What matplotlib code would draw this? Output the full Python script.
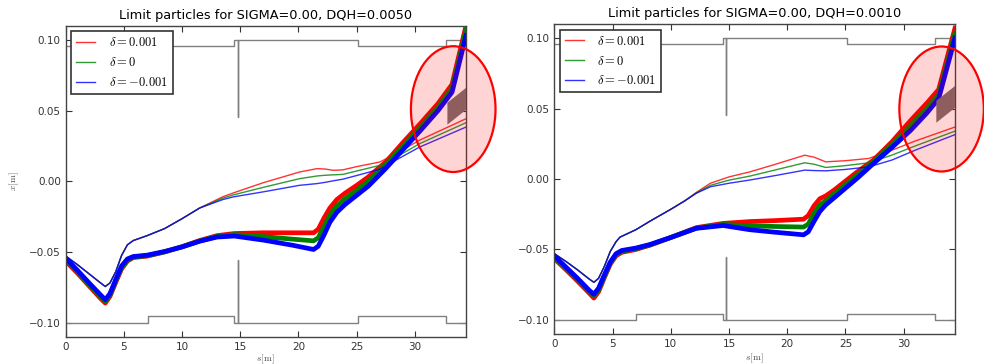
import matplotlib
matplotlib.use('Agg')
import matplotlib.pyplot as plt
from matplotlib.patches import Ellipse, Polygon

plt.rcParams['mathtext.fontset'] = 'cm'
plt.rcParams['xtick.direction'] = 'in'
plt.rcParams['ytick.direction'] = 'in'
plt.rcParams['xtick.top'] = True
plt.rcParams['ytick.right'] = True

labels = [r'$\delta=0.001$', r'$\delta=0$', r'$\delta=-0.001$']
colors = ['#ff0000', '#008000', '#0000ff']
titles = ['Limit particles for SIGMA=0.00, DQH=0.0050',
          'Limit particles for SIGMA=0.00, DQH=0.0010']

# aperture (gray) along s
ap_s = [0, 7.05, 7.05, 14.5, 14.5, 14.77, 14.77, 14.77, 25.1, 25.1, 32.65, 32.65, 34.4]
ap_up = [0.0957, 0.0957, 0.0957, 0.0957, 0.100, 0.100, 0.0453, 0.100, 0.100, 0.0957, 0.0957, 0.100, 0.100]
ap_lo = [-0.100, -0.100, -0.0957, -0.0957, -0.100, -0.100, -0.0557, -0.100, -0.100, -0.0957, -0.0957, -0.100, -0.100]

# septum shadow (s, x)
sep_s = [32.8, 32.8, 34.4, 34.4]
sep_x = [0.040, 0.0555, 0.066, 0.0505]

# ---- DQH = 0.0050 : thick bundles ----
b1_s_early = [0, 1, 2, 3.0, 3.4, 3.8, 4.3, 4.8, 5.3, 5.8, 7.0, 8.5, 10.0, 11.5, 13.0, 14.5]
b1_red_early = [-0.0565, -0.0650, -0.0740, -0.0830, -0.0862, -0.0815, -0.0715, -0.0620, -0.0565, -0.0540,
                -0.0530, -0.0500, -0.0463, -0.0420, -0.0385, -0.0370]
b1_grn_early = [-0.0555, -0.0640, -0.0730, -0.0820, -0.0850, -0.0805, -0.0705, -0.0610, -0.0558, -0.0537,
                -0.0527, -0.0500, -0.0464, -0.0423, -0.0390, -0.0377]
b1_blu_early = [-0.0545, -0.0630, -0.0719, -0.0805, -0.0838, -0.0795, -0.0695, -0.0600, -0.0550, -0.0533,
                -0.0523, -0.0497, -0.0465, -0.0425, -0.0395, -0.0388]
b1_s_late = [17.0, 19.5, 21.3, 21.7, 22.2, 22.7, 23.3, 24.0, 25.0, 26.0, 27.5, 29.0, 30.5, 32.0, 33.2, 34.4]
b1_red_late = [-0.0365, -0.0365, -0.0365, -0.0340, -0.0260, -0.0190, -0.0130, -0.0085, -0.0030, 0.0030,
               0.0135, 0.0275, 0.0410, 0.0550, 0.0685, 0.1100]
b1_grn_late = [-0.0392, -0.0410, -0.0422, -0.0400, -0.0320, -0.0240, -0.0175, -0.0125, -0.0065, 0.0000,
               0.0115, 0.0250, 0.0385, 0.0525, 0.0660, 0.1070]
b1_blu_late = [-0.0417, -0.0453, -0.0483, -0.0460, -0.0380, -0.0290, -0.0220, -0.0165, -0.0100, -0.0035,
               0.0090, 0.0225, 0.0360, 0.0500, 0.0630, 0.1030]

# ---- DQH = 0.0050 : single particles ----
t1_s_early = [0, 1, 2, 3.0, 3.4, 3.8, 4.3, 4.8, 5.3, 5.8, 7.0, 8.5, 10.0, 11.5]
t1_early = [-0.053, -0.059, -0.0655, -0.072, -0.0745, -0.072, -0.064, -0.0525, -0.045, -0.042,
            -0.0385, -0.0335, -0.0265, -0.019]
t1_s_late = [12.5, 13.5, 14.4, 17.0, 20.1, 21.6, 22.3, 23.0, 23.8, 25.0, 27.0, 28.5, 30.4, 34.4]
t1_red_late = [-0.0150, -0.0110, -0.0083, -0.0010, 0.0065, 0.0089, 0.0086, 0.0077, 0.0080, 0.0103,
               0.0136, 0.0200, 0.0290, 0.0442]
t1_grn_late = [-0.0155, -0.0120, -0.0097, -0.0043, 0.0018, 0.0037, 0.0042, 0.0045, 0.0048, 0.0072,
               0.0112, 0.0175, 0.0265, 0.0414]
t1_blu_late = [-0.0160, -0.0130, -0.0111, -0.0075, -0.0029, -0.0017, -0.0008, 0.0003, 0.0014, 0.0040,
               0.0085, 0.0155, 0.0241, 0.0383]

# ---- DQH = 0.0010 : thick bundles ----
b2_s_early = [0, 1, 2, 3.0, 3.4, 3.8, 4.3, 4.8, 5.3, 5.8, 7.0, 8.2, 10.0, 12.2, 14.5]
b2_red_early = [-0.0565, -0.0643, -0.0725, -0.0810, -0.0845, -0.0800, -0.0700, -0.0605, -0.0545, -0.0520,
                -0.0500, -0.0470, -0.0415, -0.0345, -0.0315]
b2_grn_early = [-0.0555, -0.0635, -0.0715, -0.0800, -0.0830, -0.0788, -0.0690, -0.0598, -0.0538, -0.0513,
                -0.0495, -0.0468, -0.0415, -0.0348, -0.0322]
b2_blu_early = [-0.0545, -0.0625, -0.0705, -0.0790, -0.0818, -0.0775, -0.0680, -0.0590, -0.0530, -0.0507,
                -0.0490, -0.0465, -0.0415, -0.0350, -0.0330]
b2_s_late = [16.8, 19.0, 21.4, 21.8, 22.3, 22.8, 23.3, 24.0, 25.0, 26.0, 27.4, 29.0, 30.6, 32.0, 33.0, 34.4]
b2_red_late = [-0.0302, -0.0295, -0.0285, -0.0260, -0.0190, -0.0140, -0.0120, -0.0080, -0.0015, 0.0050,
               0.0134, 0.0265, 0.0416, 0.0540, 0.0635, 0.1070]
b2_grn_late = [-0.0332, -0.0337, -0.0341, -0.0320, -0.0245, -0.0185, -0.0155, -0.0108, -0.0040, 0.0028,
               0.0122, 0.0245, 0.0380, 0.0505, 0.0600, 0.1035]
b2_blu_late = [-0.0360, -0.0378, -0.0396, -0.0375, -0.0300, -0.0230, -0.0184, -0.0135, -0.0065, 0.0005,
               0.0110, 0.0225, 0.0346, 0.0470, 0.0570, 0.1000]

# ---- DQH = 0.0010 : single particles ----
t2_s_early = [0, 1, 2, 3.0, 3.4, 3.8, 4.3, 4.8, 5.3, 5.65, 7.0, 8.2, 10.0, 11.2]
t2_early = [-0.053, -0.0585, -0.0645, -0.071, -0.0733, -0.0705, -0.062, -0.0515, -0.0445, -0.0412,
            -0.036, -0.030, -0.0215, -0.0155]
t2_s_late = [12.2, 13.4, 15.0, 16.8, 19.0, 21.5, 22.3, 23.3, 25.0, 27.0, 29.0, 31.0, 34.4]
t2_red_late = [-0.0095, -0.0030, 0.0015, 0.0051, 0.0105, 0.0169, 0.0155, 0.0122, 0.0130, 0.0146,
               0.0205, 0.0270, 0.0369]
t2_grn_late = [-0.0098, -0.0045, -0.0008, 0.0021, 0.0065, 0.0115, 0.0105, 0.0082, 0.0095, 0.0115,
               0.0170, 0.0235, 0.0340]
t2_blu_late = [-0.0101, -0.0055, -0.0030, -0.0007, 0.0025, 0.0063, 0.0060, 0.0058, 0.0068, 0.0086,
               0.0135, 0.0205, 0.0315]

panels = [
    dict(rect=[0.0668, 0.075, 0.4068, 0.8544],
         b_early=(b1_s_early, [b1_red_early, b1_grn_early, b1_blu_early]),
         b_late=(b1_s_late, [b1_red_late, b1_grn_late, b1_blu_late]),
         t_early=(t1_s_early, t1_early),
         t_late=(t1_s_late, [t1_red_late, t1_grn_late, t1_blu_late]),
         ell=(33.3, 0.051, 7.27, 0.089), ylabel=True, xpad=0.5),
    dict(rect=[0.5633, 0.0824, 0.4072, 0.8516],
         b_early=(b2_s_early, [b2_red_early, b2_grn_early, b2_blu_early]),
         b_late=(b2_s_late, [b2_red_late, b2_grn_late, b2_blu_late]),
         t_early=(t2_s_early, t2_early),
         t_late=(t2_s_late, [t2_red_late, t2_grn_late, t2_blu_late]),
         ell=(33.25, 0.0497, 7.25, 0.0887), ylabel=False, xpad=2),
]

fig = plt.figure(figsize=(9.84, 3.64), dpi=100)

for p, title in zip(panels, titles):
    ax = fig.add_axes(p['rect'])
    ax.plot(ap_s, ap_up, color='gray', lw=1.0)
    ax.plot(ap_s, ap_lo, color='gray', lw=1.0)

    s_e, bands_e = p['b_early']
    s_l, bands_l = p['b_late']
    ts_e, t_e = p['t_early']
    ts_l, t_l = p['t_late']
    for k in range(3):
        ax.plot(s_e + s_l, bands_e[k] + bands_l[k], color=colors[k], lw=3.4,
                solid_joinstyle='round')
        ax.plot(ts_e + ts_l, t_e + t_l[k], color=colors[k], lw=1.0, alpha=0.8, label=labels[k])

    ax.add_patch(Polygon(list(zip(sep_s, sep_x)), closed=True, facecolor='#787070',
                         edgecolor='none', zorder=4))
    cx, cy, w, h = p['ell']
    ax.add_patch(Ellipse((cx, cy), w, h, facecolor=(1, 0, 0, 0.17), edgecolor='red',
                         lw=1.6, zorder=5, clip_on=False))

    ax.set_xlim(0, 34.4)
    ax.set_ylim(-0.11, 0.11)
    ax.set_xticks([0, 5, 10, 15, 20, 25, 30])
    ax.set_yticks([-0.10, -0.05, 0.0, 0.05, 0.10])
    ax.set_yticklabels(['\u22120.10', '\u22120.05', '0.00', '0.05', '0.10'])
    ax.tick_params(labelsize=7.5, length=4, width=0.8, colors='#333333')
    for sp in ax.spines.values():
        sp.set_color('#444444')
        sp.set_linewidth(1.0)
    ax.set_title(title, fontsize=9.3, pad=5)
    ax.set_xlabel(r'$s[\mathrm{m}]$', fontsize=7, color='#555555', labelpad=p['xpad'])
    if p['ylabel']:
        ax.set_ylabel(r'$x[\mathrm{m}]$', fontsize=7, color='#555555', labelpad=6)
    leg = ax.legend(loc='upper left', fontsize=9, fancybox=False, framealpha=1,
                    handlelength=1.5, handletextpad=1.1, borderpad=0.4, labelspacing=0.55,
                    borderaxespad=0.45)
    leg.get_frame().set_edgecolor('#333333')
    leg.get_frame().set_linewidth(1.2)

fig.savefig('out.png', dpi=100)
